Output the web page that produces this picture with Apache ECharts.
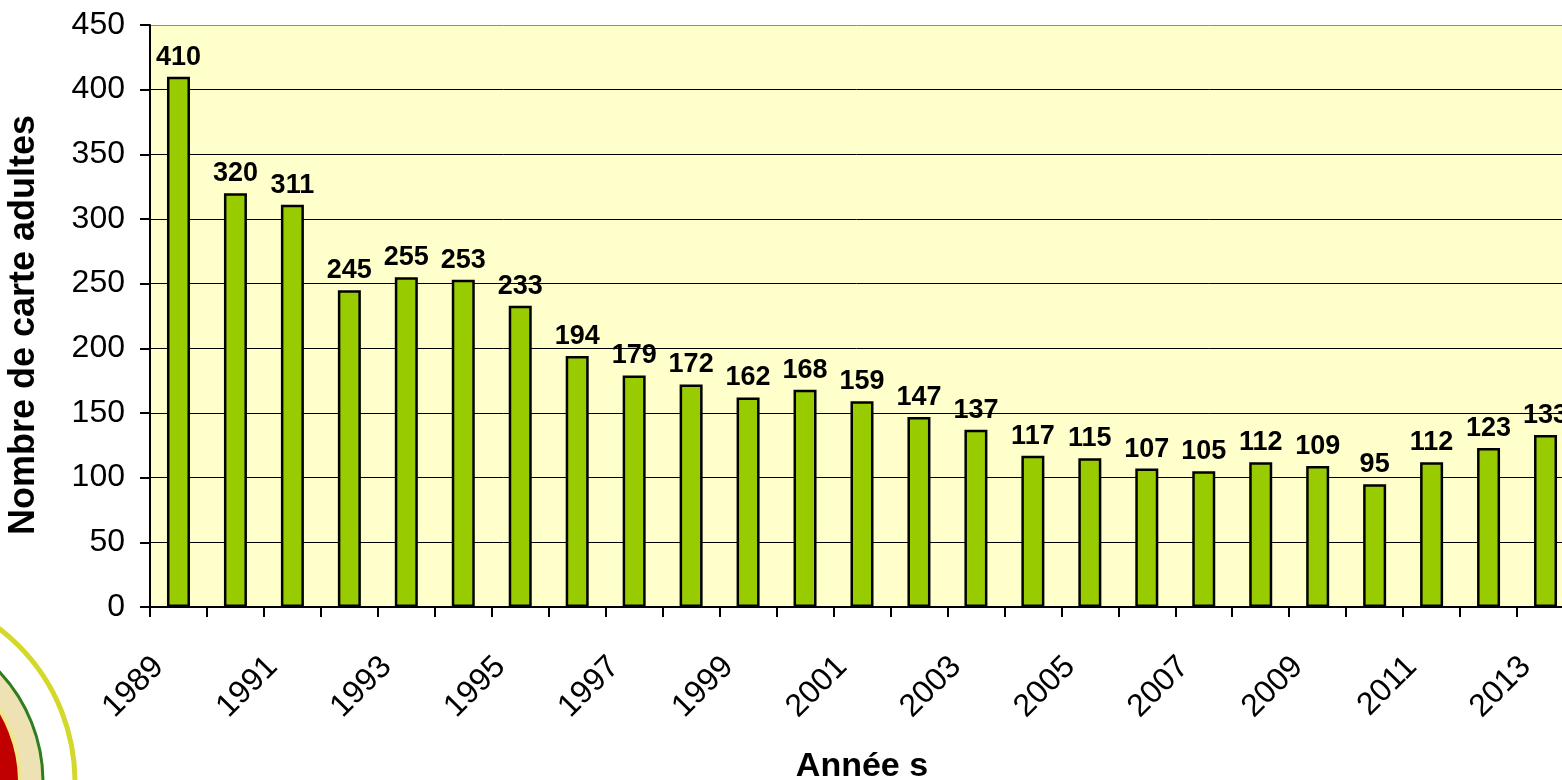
<!DOCTYPE html>
<html>
<head>
<meta charset="utf-8">
<script src="https://cdn.jsdelivr.net/npm/echarts@6/dist/echarts.min.js"></script>
<style>
    html, body { margin: 0; padding: 0; background: #fff; }
    #chart { width: 1562px; height: 780px; }
</style>
</head>
<body>
<div id="chart"></div>
<script>
const years = ['1989', '1990', '1991', '1992', '1993', '1994', '1995', '1996', '1997', '1998',
    '1999', '2000', '2001', '2002', '2003', '2004', '2005', '2006', '2007', '2008',
    '2009', '2010', '2011', '2012', '2013'];
const cartes = [410, 320, 311, 245, 255, 253, 233, 194, 179, 172,
    162, 168, 159, 147, 137, 117, 115, 107, 105, 112,
    109, 95, 112, 123, 133];
const yTicks = { min: 0, max: 450, interval: 50 };

const font = "'Liberation Sans', Arial, sans-serif";
const chart = echarts.init(document.getElementById('chart'));

// gridlines: black, last one (450) is the grey top border of the plot
const splitColors = ['#000', '#000', '#000', '#000', '#000', '#000', '#000', '#000', '#000', '#8c8c8c'];

let option = {
    animation: false,
    backgroundColor: '#ffffff',
    grid: {
        left: 150,
        right: -12,
        top: 25,
        bottom: 173,
        outerBoundsMode: 'none',
        show: true,
        backgroundColor: '#FFFFCC',
        borderWidth: 0
    },
    xAxis: {
        type: 'category',
        data: years,
        name: 'Année s',
        nameLocation: 'middle',
        nameGap: 143,
        nameTextStyle: { fontFamily: font, fontWeight: 'bold', fontSize: 34, color: '#000' },
        axisLine: { lineStyle: { color: '#000', width: 2 } },
        axisTick: { show: true, interval: 0, length: 10, lineStyle: { color: '#000', width: 2 } },
        axisLabel: {
            interval: 1,
            rotate: 45,
            margin: 35,
            padding: [0, 28, 0, 0],
            fontFamily: font,
            fontSize: 32,
            color: '#000'
        },
        splitLine: { show: false }
    },
    yAxis: {
        type: 'value',
        min: yTicks.min,
        max: yTicks.max,
        interval: yTicks.interval,
        name: 'Nombre de carte adultes',
        nameLocation: 'middle',
        nameGap: 108,
        nameTextStyle: { fontFamily: font, fontWeight: 'bold', fontSize: 36, color: '#000', padding: [0, 18, 0, 0] },
        axisLine: { show: true, lineStyle: { color: '#000', width: 2 } },
        axisTick: { show: true, length: 10, lineStyle: { color: '#000', width: 2 } },
        axisLabel: { margin: 25, fontFamily: font, fontSize: 32, color: '#000' },
        splitLine: { show: true, lineStyle: { color: splitColors, width: 1 } }
    },
    series: [
        {
            type: 'bar',
            data: cartes,
            barWidth: 23,
            itemStyle: { color: '#99CC00', borderColor: '#000', borderWidth: 2.5 },
            label: {
                show: true,
                position: 'top',
                distance: 6,
                fontFamily: font,
                fontWeight: 'bold',
                fontSize: 27,
                color: '#000'
            }
        }
    ],
    // logo in the lower-left corner
    graphic: [
        {
            type: 'circle',
            shape: { cx: -118, cy: 782, r: 193 },
            style: { fill: 'none', stroke: '#D4D82A', lineWidth: 5 },
            z: 10
        },
        {
            type: 'circle',
            shape: { cx: -118, cy: 782, r: 161 },
            style: { fill: '#EEE2B4', stroke: '#2E7D1E', lineWidth: 3 },
            z: 10
        },
        {
            type: 'circle',
            shape: { cx: -118, cy: 782, r: 138 },
            style: { fill: '#C00000', stroke: '#F0E68C', lineWidth: 4 },
            z: 10
        }
    ]
};
chart.setOption(option);
</script>
</body>
</html>
